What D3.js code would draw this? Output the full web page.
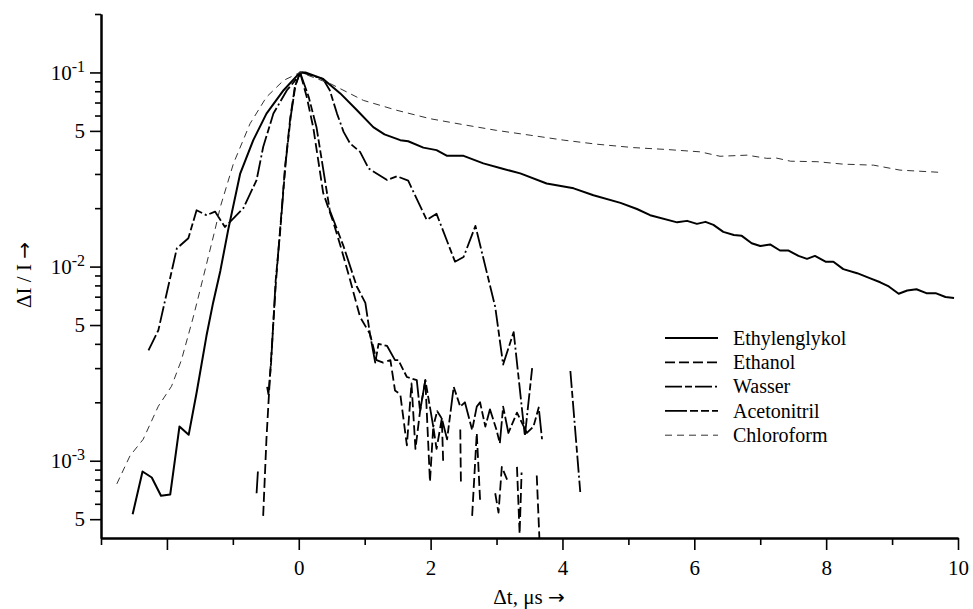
<!DOCTYPE html>
<html>
<head>
<meta charset="utf-8">
<script src="https://cdn.jsdelivr.net/npm/d3@7"></script>
<style>
  body { margin: 0; background: #fff; }
  svg text { font-family: "Liberation Serif", "Times New Roman", serif; fill: #000; }
</style>
</head>
<body>
<div class="canvas"></div>
<script>
// Series: [delta t in µs, dI/I], null = gap (value not plottable on log axis)
const ethylenglykol = [
  [-2.52, 5.3e-4], [-2.37, 8.8e-4], [-2.23, 8.2e-4], [-2.09, 6.6e-4], [-1.95, 6.7e-4],
  [-1.81, 1.5e-3], [-1.67, 1.36e-3], [-1.55, 2.24e-3], [-1.40, 4.4e-3], [-1.30, 6.5e-3],
  [-1.19, 9.5e-3], [-1.07, 0.0155], [-0.89, 0.030], [-0.69, 0.0448], [-0.49, 0.0614],
  [-0.23, 0.081], [0.02, 0.1], [0.10, 0.1], [0.37, 0.0925], [0.63, 0.078], [0.88, 0.064],
  [1.13, 0.0523], [1.30, 0.048], [1.54, 0.0448], [1.66, 0.0442], [1.89, 0.041], [2.09, 0.0398],
  [2.25, 0.0372], [2.50, 0.0372], [2.80, 0.034], [3.08, 0.032], [3.36, 0.0302], [3.76, 0.0268],
  [4.17, 0.0253], [4.47, 0.0233], [4.88, 0.0213], [5.13, 0.0198], [5.33, 0.0184], [5.74, 0.0169],
  [5.89, 0.0172], [6.04, 0.0166], [6.17, 0.0170], [6.29, 0.0164], [6.44, 0.0151], [6.60, 0.01455],
  [6.72, 0.0144], [6.87, 0.0132], [7.00, 0.01277], [7.15, 0.0130], [7.30, 0.0121], [7.43, 0.0121],
  [7.58, 0.01135], [7.71, 0.01096], [7.83, 0.01135], [7.99, 0.0106], [8.11, 0.0106], [8.26, 0.0097],
  [8.47, 0.00925], [8.67, 0.0087], [8.82, 0.0083], [8.95, 0.0079], [9.10, 0.00725], [9.23, 0.00753],
  [9.37, 0.00764], [9.52, 0.0073], [9.66, 0.0073], [9.81, 0.00697], [9.94, 0.0069]
]

const ethanol = [
  [-0.54, 5.2e-4], [-0.49, 1.3e-3], [-0.44, 2.6e-3], [-0.35, 8.0e-3], [-0.28, 0.016],
  [-0.21, 0.032], [-0.13, 0.058], [-0.06, 0.084], [0.02, 0.1], [0.12, 0.075], [0.22, 0.052],
  [0.37, 0.024], [0.53, 0.0167], [0.65, 0.0122], [0.78, 0.0085], [0.93, 0.0055], [1.08, 0.0045],
  [1.18, 0.0033], [1.28, 0.0032], [1.39, 0.0033], [1.46, 0.0023], [1.54, 0.0022], [1.64, 0.0012],
  [1.71, 0.0025], [1.77, 0.00115], [1.84, 0.0018], [1.92, 0.0026], [1.99, 0.00078], [2.04, 0.0015],
  [2.09, 0.00115], [2.17, 0.00165], [2.19, 0.0010], null,
  [2.45, 0.00145], [2.46, 0.00075], null,
  [2.63, 0.00052], [2.70, 0.00139], [2.75, 0.00063], null,
  [2.98, 0.00068], [3.03, 0.00054], [3.08, 0.00093], [3.16, 0.0008], null,
  [3.31, 0.00093], [3.35, 0.00042], [3.38, 0.00087], null,
  [3.61, 0.00084], [3.65, 0.0004]
]

const wasser = [
  [-2.28, 3.7e-3], [-2.13, 4.7e-3], [-1.85, 0.0124], [-1.675, 0.014], [-1.55, 0.0195],
  [-1.40, 0.0184], [-1.27, 0.0192], [-1.12, 0.016], [-0.84, 0.020], [-0.64, 0.0279],
  [-0.54, 0.0413], [-0.385, 0.0614], [-0.18, 0.081], [0.05, 0.1], [0.37, 0.0925], [0.47, 0.081],
  [0.58, 0.0614], [0.68, 0.0494], [0.78, 0.043], [0.93, 0.039], [1.06, 0.032], [1.34, 0.0279],
  [1.49, 0.0292], [1.66, 0.0277], [1.94, 0.0174], [2.09, 0.0187], [2.37, 0.0106], [2.50, 0.0112],
  [2.68, 0.0162], [2.98, 0.0062], [3.10, 0.00313], [3.26, 0.0046], [3.43, 0.00134], [3.54, 0.0030],
  null,
  [4.12, 0.0029], [4.27, 0.00069]
]

const acetonitril = [
  [-0.64, 6.8e-4], [-0.62, 8.8e-4], null,
  [-0.48, 2.4e-3], [-0.46, 2.2e-3], [-0.42, 3.2e-3], [-0.35, 8.5e-3], [-0.28, 0.0155],
  [-0.20, 0.034], [-0.12, 0.060], [-0.05, 0.086], [0.02, 0.1], [0.15, 0.075], [0.27, 0.052],
  [0.47, 0.0195], [0.68, 0.0127], [0.88, 0.0079], [1.01, 0.0065], [1.08, 0.0045], [1.16, 0.0032],
  [1.21, 0.0040], [1.34, 0.0039], [1.46, 0.0033], [1.51, 0.0033], [1.64, 0.0027], [1.79, 0.0026],
  [1.84, 0.0018], [1.92, 0.0026], [2.04, 0.0015], [2.10, 0.0018], [2.17, 0.00165], [2.25, 0.00129],
  [2.35, 0.0024], [2.45, 0.0019], [2.52, 0.0020], [2.63, 0.00144], [2.70, 0.0019], [2.75, 0.0020],
  [2.83, 0.0015], [2.90, 0.00184], [3.00, 0.00144], [3.05, 0.00123], [3.10, 0.0019], [3.18, 0.00139],
  [3.31, 0.00177], [3.46, 0.00139], [3.56, 0.0015], [3.64, 0.00188], [3.69, 0.00129]
]

const chloroform = [
  [-2.76, 7.6e-4], [-2.56, 1.06e-3], [-2.36, 1.29e-3], [-2.13, 1.91e-3], [-1.93, 2.42e-3],
  [-1.78, 3.3e-3], [-1.60, 5.5e-3], [-1.50, 7.5e-3], [-1.27, 0.0155], [-1.19, 0.0203],
  [-0.99, 0.034], [-0.74, 0.0544], [-0.49, 0.0747], [-0.23, 0.091], [0.02, 0.1], [0.48, 0.0875],
  [0.98, 0.0718], [1.49, 0.0638], [1.99, 0.0578], [2.50, 0.0538], [3.00, 0.0503], [3.51, 0.0475],
  [4.02, 0.0448], [4.52, 0.0427], [5.08, 0.041], [5.58, 0.0401], [6.09, 0.039], [6.39, 0.037],
  [6.80, 0.0375], [7.10, 0.0361], [7.25, 0.0362], [7.46, 0.0349], [7.86, 0.0347], [8.26, 0.0337],
  [8.72, 0.0333], [9.12, 0.0314], [9.71, 0.0306]
]

const seriesNames = ['Ethylenglykol', 'Ethanol', 'Wasser', 'Acetonitril', 'Chloroform']
const seriesData = [ethylenglykol, ethanol, wasser, acetonitril, chloroform]

// Tick values
const xMajorTicks = [-2, 0, 2, 4, 6, 8, 10]
const xMinorTicks = [-3, -1, 1, 3, 5, 7, 9]
const yMajorTicks = [5e-4, 1e-3, 5e-3, 1e-2, 5e-2, 1e-1]
const yMinorTicks = [6e-4, 7e-4, 8e-4, 9e-4, 2e-3, 3e-3, 4e-3, 6e-3, 7e-3, 8e-3, 9e-3,
  2e-2, 3e-2, 4e-2, 6e-2, 7e-2, 8e-2, 9e-2, 2e-1]

// line styles per series
const styles = [
  { width: 2, dash: null, color: '#000' },
  { width: 1.8, dash: '10,4', color: '#000' },
  { width: 1.8, dash: '17,3,7,3,17,3,2,3', color: '#000' },
  { width: 1.8, dash: '22,3,8,3,8,3', color: '#000' },
  { width: 1, dash: '7,5', color: '#333' }
]

const serif = '"Liberation Serif", "Times New Roman", serif'
const arrowFont = '"DejaVu Sans", sans-serif'

const svg = d3.select('.canvas')
  .append('svg')
    .attr('width', 973)
    .attr('height', 609)

const x = d3.scaleLinear()
  .domain([-3, 10])
  .range([101, 958])

const y = d3.scaleLog()
  .domain([4e-4, 0.2])
  .range([538, 14])

// clip so the curves stop at the axes
svg.append('clipPath')
  .attr('id', 'plot-clip')
  .append('rect')
    .attr('x', 101)
    .attr('y', 14)
    .attr('width', 857)
    .attr('height', 524)

const line = d3.line()
  .defined((d) => d !== null)
  .x((d) => x(d[0]))
  .y((d) => y(d[1]))

const curves = svg.append('g').attr('clip-path', 'url(#plot-clip)')

curves.selectAll('path')
  .data(seriesData)
  .enter()
  .append('path')
    .attr('d', line)
    .attr('fill', 'none')
    .attr('stroke', (d, i) => styles[i].color)
    .attr('stroke-width', (d, i) => styles[i].width)
    .attr('stroke-dasharray', (d, i) => styles[i].dash)
    .attr('stroke-linejoin', 'round')

// X axis
svg.append('g')
  .attr('transform', 'translate(0,538)')
  .call(d3.axisBottom(x).tickValues(xMinorTicks).tickSize(7).tickSizeOuter(0).tickFormat(''))

svg.append('g')
  .attr('transform', 'translate(0,538)')
  .call(d3.axisBottom(x).tickValues(xMajorTicks).tickSize(12).tickSizeOuter(0).tickPadding(10)
    .tickFormat((d) => d >= 0 ? d : ''))

// Y axis
svg.append('g')
  .attr('transform', 'translate(101,0)')
  .call(d3.axisLeft(y).tickValues(yMinorTicks).tickSize(6).tickSizeOuter(0).tickFormat(''))

const yMajor = svg.append('g')
  .attr('transform', 'translate(101,0)')
  .call(d3.axisLeft(y).tickValues(yMajorTicks).tickSize(11).tickSizeOuter(0).tickPadding(5).tickFormat(''))

yMajor.selectAll('.tick text')
  .each(function (d) {
    const t = d3.select(this)
    const exp = Math.round(Math.log10(d))
    if (Math.abs(d / Math.pow(10, exp) - 1) < 1e-6) {
      t.append('tspan').text('10')
      t.append('tspan').attr('dy', -8).style('font-size', '16px').text('-' + (-exp))
    } else {
      t.append('tspan').text('5')
    }
  })

svg.selectAll('.domain').attr('stroke-width', 2).attr('stroke', '#000')
svg.selectAll('.tick line').attr('stroke-width', 1.6).attr('stroke', '#000')
svg.selectAll('.tick text')
  .style('font-size', '21px')
  .style('font-family', serif)
  .attr('fill', '#000')

// axis titles
const xTitle = svg.append('text')
  .attr('x', 529)
  .attr('y', 604)
  .attr('text-anchor', 'middle')
  .style('font-size', '21px')
  .style('font-family', serif)
xTitle.append('tspan').text('Δt, μs ')
xTitle.append('tspan').style('font-family', arrowFont).style('font-size', '20px').text('→')

const yTitle = svg.append('text')
  .attr('transform', 'translate(24,275) rotate(-90)')
  .attr('text-anchor', 'middle')
  .attr('dy', '0.35em')
  .style('font-size', '21px')
  .style('font-family', serif)
yTitle.append('tspan').text('ΔI / I ')
yTitle.append('tspan').style('font-family', arrowFont).style('font-size', '20px').text('→')

// legend
const legend = svg.append('g').attr('transform', 'translate(665,338)')

const rows = legend.selectAll('g')
  .data(seriesNames)
  .enter()
  .append('g')
    .attr('transform', (d, i) => `translate(0,${i * 24.3})`)

rows.append('line')
  .attr('x1', 0)
  .attr('x2', 53)
  .attr('stroke', (d, i) => styles[i].color)
  .attr('stroke-width', (d, i) => styles[i].width)
  .attr('stroke-dasharray', (d, i) => styles[i].dash)

rows.append('text')
  .attr('x', 68)
  .attr('dy', '0.33em')
  .style('font-size', '20px')
  .style('font-family', serif)
  .text((d) => d)
</script>
</body>
</html>
